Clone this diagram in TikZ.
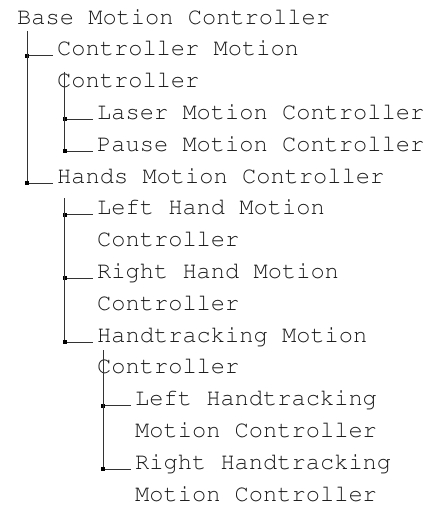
\documentclass[tikz,border=0pt]{standalone}
\usepackage[T1]{fontenc}
\usepackage{courier}
\usetikzlibrary{calc}
\tikzset{item/.style={anchor=base west, inner sep=0pt, text=black!90,
    font=\ttfamily\fontsize{23.7}{31.8}\selectfont}}
\tikzset{branch/.style={draw=black!80, line width=0.9pt}}
\tikzset{joint/.style={fill=black}}
\newcommand{\joint}[1]{\fill[joint] ($(#1)+(-2,-2)$) rectangle ++(4,4);}
\newcommand{\twoline}[2]{\vtop{\hbox{#1}\hbox{#2}}}

\begin{document}
\begin{tikzpicture}[x=1pt, y=1pt]
    \useasboundingbox (0,0) rectangle (445,-506);

    % Items
    \node[item] (base) at (17,-24) {Base Motion Controller};
    \node[item] (ctrl) at (57,-55.8) {\twoline{Controller Motion}{Controller}};
    \node[item] (laser) at (97,-119.4) {Laser Motion Controller};
    \node[item] (pause) at (97,-151.2) {Pause Motion Controller};
    \node[item] (hands) at (57,-183) {Hands Motion Controller};
    \node[item] (lhand) at (97,-214.8) {\twoline{Left Hand Motion}{Controller}};
    \node[item] (rhand) at (97,-278.4) {\twoline{Right Hand Motion}{Controller}};
    \node[item] (htrack) at (97,-342) {\twoline{Handtracking Motion}{Controller}};
    \node[item] (lht) at (135,-405.6) {\twoline{Left Handtracking}{Motion Controller}};
    \node[item] (rht) at (135,-469.2) {\twoline{Right Handtracking}{Motion Controller}};

    % Stems
    \coordinate (base-stem) at ($(base.base west)+(10,-7)$);
    \coordinate (ctrl-stem) at ($(ctrl.base west)+(7.5,-16)$);
    \coordinate (hands-stem) at ($(hands.base west)+(7.5,-15)$);
    \coordinate (htrack-stem) at ($(htrack.base west)+(6,-8)$);

    % Branches
    \foreach \c in {ctrl, hands} {
        \draw[branch] (base-stem) |- ($(\c.base west)+(-4,0)$);
        \joint{base-stem |- \c.base}
    }
    \foreach \c in {laser, pause} {
        \draw[branch] (ctrl-stem) |- ($(\c.base west)+(-4,0)$);
        \joint{ctrl-stem |- \c.base}
    }
    \foreach \c in {lhand, rhand, htrack} {
        \draw[branch] (hands-stem) |- ($(\c.base west)+(-4,0)$);
        \joint{hands-stem |- \c.base}
    }
    \foreach \c in {lht, rht} {
        \draw[branch] (htrack-stem) |- ($(\c.base west)+(-4,0)$);
        \joint{htrack-stem |- \c.base}
    }
\end{tikzpicture}
\end{document}
